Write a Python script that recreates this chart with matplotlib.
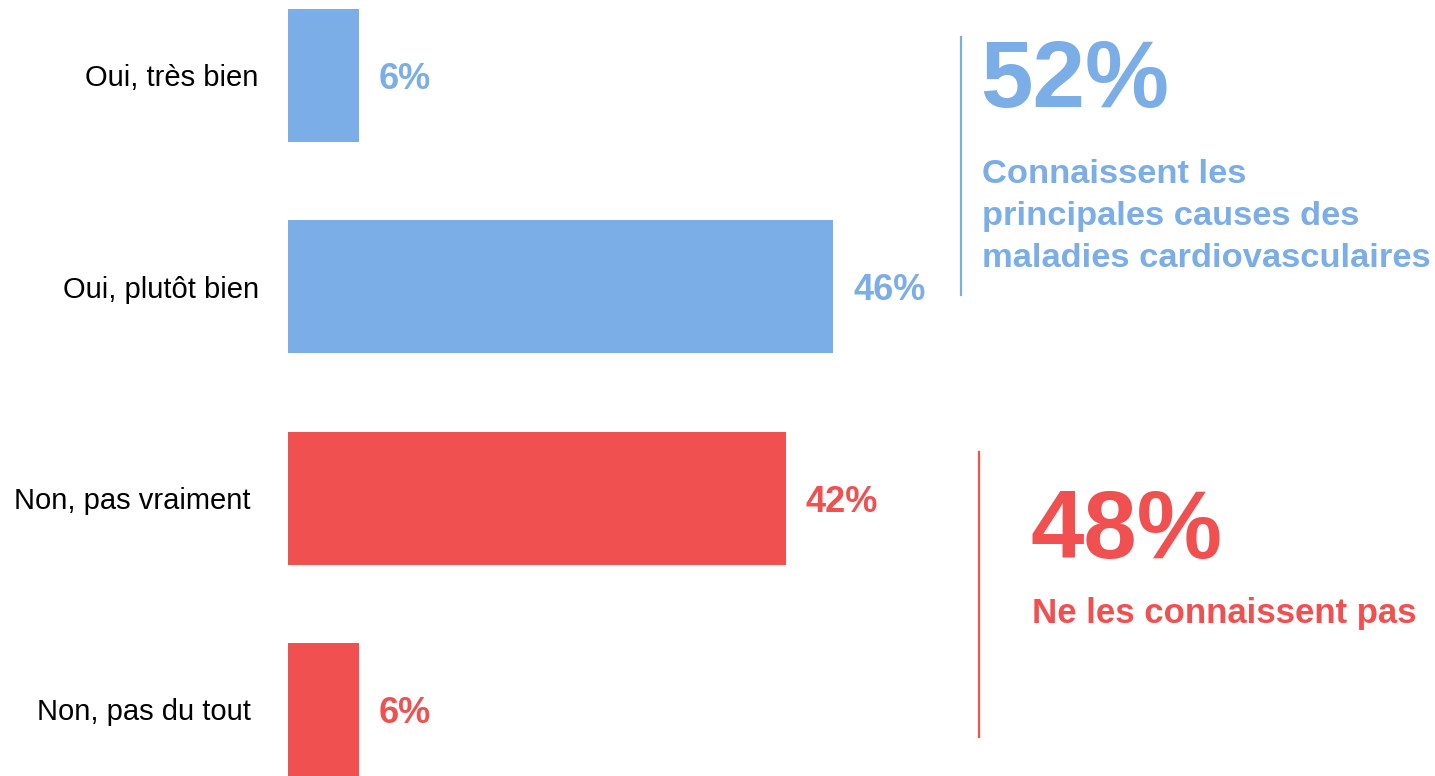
import matplotlib
matplotlib.use("Agg")
import matplotlib.pyplot as plt
from matplotlib.lines import Line2D

categories = ["Oui, très bien", "Oui, plutôt bien", "Non, pas vraiment ", "Non, pas du tout "]
values = [6, 46, 42, 6]
groups = ["oui", "oui", "non", "non"]
blue = "#7BADE6"
red = "#F05050"
colors = [blue if g == "oui" else red for g in groups]
summary_oui_text = ["Connaissent les", "principales causes des", "maladies cardiovasculaires"]
summary_non_text = ["Ne les connaissent pas"]

plt.rcParams['font.family'] = ['Liberation Sans', 'DejaVu Sans']

W, H = 1435, 776
fig = plt.figure(figsize=(W / 100, H / 100), dpi=100)
ax_left = 288
ax = fig.add_axes([ax_left / W, 0, (W - ax_left) / W, 1])
px_per_unit = 11.85
ax.set_xlim(0, (W - ax_left) / px_per_unit)
row = 211.5
ax.set_ylim((H - 75) / row, -75 / row)

ypos = list(range(len(categories)))
ax.barh(ypos, values, height=133 / row, color=colors, edgecolor='none')
for y, v, c in zip(ypos, values, colors):
    ax.text(v + 20 / px_per_unit, y, f"{v}%", color=c, fontsize=26, fontweight='bold',
            va='center_baseline', ha='left')

ax.set_yticks(ypos)
ax.set_yticklabels(categories, fontsize=21, color='black')
ax.tick_params(axis='y', length=0, pad=21)
for lab in ax.get_yticklabels():
    lab.set_verticalalignment('center_baseline')
ax.set_xticks([])
for s in ax.spines.values():
    s.set_visible(False)

def fy(py):
    return 1 - py / H

def fx(px):
    return px / W

oui_total = sum(v for v, g in zip(values, groups) if g == "oui")
non_total = sum(v for v, g in zip(values, groups) if g == "non")

fig.add_artist(Line2D([fx(961), fx(961)], [fy(37), fy(295)], color=blue, lw=1.6))
fig.text(fx(980), fy(107), f"{oui_total}%", color=blue, fontsize=68, fontweight='bold',
         ha='left', va='baseline')
for i, line in enumerate(summary_oui_text):
    fig.text(fx(982), fy(183 + 42 * i), line, color=blue, fontsize=24.8, fontweight='bold',
             ha='left', va='baseline')

fig.add_artist(Line2D([fx(979), fx(979)], [fy(452), fy(737)], color=red, lw=1.6))
fig.text(fx(1030), fy(558), f"{non_total}%", color=red, fontsize=69, fontweight='bold',
         ha='left', va='baseline')
for i, line in enumerate(summary_non_text):
    fig.text(fx(1032), fy(623 + 42 * i), line, color=red, fontsize=25, fontweight='bold',
             ha='left', va='baseline')

fig.savefig("out.png", dpi=100, facecolor='white')
